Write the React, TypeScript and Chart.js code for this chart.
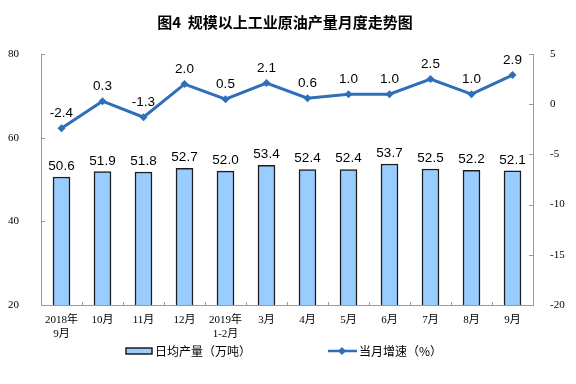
import React, { useEffect, useRef } from "react";
import { Chart, registerables } from "chart.js";

Chart.register(...registerables);

const categories: (string | string[])[] = [
  ["2018年", "9月"], "10月", "11月", "12月", ["2019年", "1-2月"], "3月",
  "4月", "5月", "6月", "7月", "8月", "9月",
];
const dailyOutput = [50.6, 51.9, 51.8, 52.7, 52.0, 53.4, 52.4, 52.4, 53.7, 52.5, 52.2, 52.1];
const monthlyGrowth = [-2.4, 0.3, -1.3, 2.0, 0.5, 2.1, 0.6, 1.0, 1.0, 2.5, 1.0, 2.9];
const leftTicks = [20, 40, 60, 80];
const rightTicks = [-20, -15, -10, -5, 0, 5];

const titleText = "图4  规模以上工业原油产量月度走势图";
const barLabel = "日均产量（万吨）";
const lineLabel = "当月增速（%）";

const BAR_FILL = "#99CCFF";
const BAR_BORDER = "#1c1c1c";
const LINE_COLOR = "#2F6EBA";
const AXIS_COLOR = "#9a9a9a";

const decorPlugin = {
  id: "decor",
  afterDraw(chart: any) {
    const ctx = chart.ctx as CanvasRenderingContext2D;
    const area = chart.chartArea;
    ctx.save();
    // title
    ctx.fillStyle = "#000";
    ctx.font = "bold 15px 'Noto Sans CJK SC', sans-serif";
    ctx.textAlign = "center";
    ctx.textBaseline = "middle";
    ctx.fillText(titleText, 285, 22);

    // inward ticks
    ctx.strokeStyle = AXIS_COLOR;
    ctx.lineWidth = 1;
    const yl = chart.scales.yL;
    const yr = chart.scales.yR;
    ctx.beginPath();
    leftTicks.forEach((v) => {
      const y = Math.round(yl.getPixelForValue(v)) + 0.5;
      ctx.moveTo(area.left, y);
      ctx.lineTo(area.left + 4, y);
    });
    rightTicks.forEach((v) => {
      const y = Math.round(yr.getPixelForValue(v)) + 0.5;
      ctx.moveTo(area.right, y);
      ctx.lineTo(area.right - 4, y);
    });
    const n = categories.length;
    const step = (area.right - area.left) / n;
    for (let i = 1; i < n; i++) {
      const x = Math.round(area.left + i * step) + 0.5;
      ctx.moveTo(x, area.bottom);
      ctx.lineTo(x, area.bottom - 3);
    }
    ctx.stroke();

    // legend
    const ly = 351;
    ctx.fillStyle = BAR_FILL;
    ctx.fillRect(126, ly - 3, 26, 6);
    ctx.strokeStyle = BAR_BORDER;
    ctx.lineWidth = 1.5;
    ctx.strokeRect(126, ly - 3, 26, 6);
    ctx.fillStyle = "#000";
    ctx.font = "12px 'Noto Sans CJK SC', sans-serif";
    ctx.textAlign = "left";
    ctx.textBaseline = "middle";
    ctx.fillText(barLabel, 155, ly);

    ctx.strokeStyle = LINE_COLOR;
    ctx.lineWidth = 2.5;
    ctx.beginPath();
    ctx.moveTo(328, ly);
    ctx.lineTo(357, ly);
    ctx.stroke();
    ctx.fillStyle = LINE_COLOR;
    ctx.beginPath();
    ctx.moveTo(342, ly - 4);
    ctx.lineTo(346, ly);
    ctx.lineTo(342, ly + 4);
    ctx.lineTo(338, ly);
    ctx.closePath();
    ctx.fill();
    ctx.fillStyle = "#000";
    ctx.fillText(lineLabel, 359, ly);
    ctx.restore();
  },
  afterDatasetsDraw(chart: any) {
    const ctx = chart.ctx as CanvasRenderingContext2D;
    ctx.save();
    ctx.fillStyle = "#000";
    ctx.font = "13.5px 'Liberation Sans', Arial, sans-serif";
    ctx.textAlign = "center";
    ctx.textBaseline = "alphabetic";
    const barMeta = chart.getDatasetMeta(0);
    barMeta.data.forEach((el: any, i: number) => {
      ctx.fillText(dailyOutput[i].toFixed(1), el.x, el.y - 7);
    });
    const lineMeta = chart.getDatasetMeta(1);
    lineMeta.data.forEach((el: any, i: number) => {
      ctx.fillText(monthlyGrowth[i].toFixed(1), el.x, el.y - 11);
    });
    ctx.restore();
  },
};

export default function App() {
  const ref = useRef<HTMLCanvasElement | null>(null);
  useEffect(() => {
    document.body.style.margin = "0";
    if (!ref.current) return;
    const chart = new Chart(ref.current, {
      type: "bar",
      data: {
        labels: categories as any,
        datasets: [
          {
            type: "bar",
            label: barLabel,
            data: dailyOutput,
            backgroundColor: BAR_FILL,
            borderColor: BAR_BORDER,
            borderWidth: 1.5,
            barThickness: 17,
            yAxisID: "yL",
            order: 2,
          },
          {
            type: "line",
            label: lineLabel,
            data: monthlyGrowth,
            borderColor: LINE_COLOR,
            backgroundColor: LINE_COLOR,
            borderWidth: 3,
            pointStyle: "rectRot",
            pointRadius: 4,
            pointBorderWidth: 0,
            tension: 0,
            yAxisID: "yR",
            order: 1,
          } as any,
        ],
      },
      options: {
        responsive: false,
        animation: false,
        layout: { padding: { top: 54, left: 0, right: 0, bottom: 0 } },
        plugins: {
          legend: { display: false },
          title: { display: false },
          tooltip: { enabled: false },
        },
        scales: {
          x: {
            grid: { display: false },
            border: { display: true, color: AXIS_COLOR, width: 1 },
            ticks: {
              autoSkip: false,
              maxRotation: 0,
              minRotation: 0,
              padding: 1,
              color: "#000",
              font: { family: "'Liberation Serif', 'Noto Sans CJK SC', serif", size: 11, lineHeight: 1.2 },
            },
            afterFit: (s: any) => { s.height = 79; },
          },
          yL: {
            position: "left",
            min: 20,
            max: 80,
            grid: { display: false },
            border: { display: true, color: AXIS_COLOR, width: 1 },
            ticks: {
              stepSize: 20,
              padding: 14,
              color: "#000",
              font: { family: "'Liberation Serif', serif", size: 11 },
            },
            afterFit: (s: any) => { s.width = 41; },
          },
          yR: {
            position: "right",
            min: -20,
            max: 5,
            grid: { display: false },
            border: { display: true, color: AXIS_COLOR, width: 1 },
            ticks: {
              stepSize: 5,
              padding: 9,
              color: "#000",
              font: { family: "'Liberation Serif', serif", size: 11 },
            },
            afterFit: (s: any) => { s.width = 43; },
          },
        },
      },
      plugins: [decorPlugin],
    });
    return () => chart.destroy();
  }, []);
  return (
    <div style={{ width: 576, height: 384, background: "#fff" }}>
      <canvas ref={ref} width={576} height={384} />
    </div>
  );
}
